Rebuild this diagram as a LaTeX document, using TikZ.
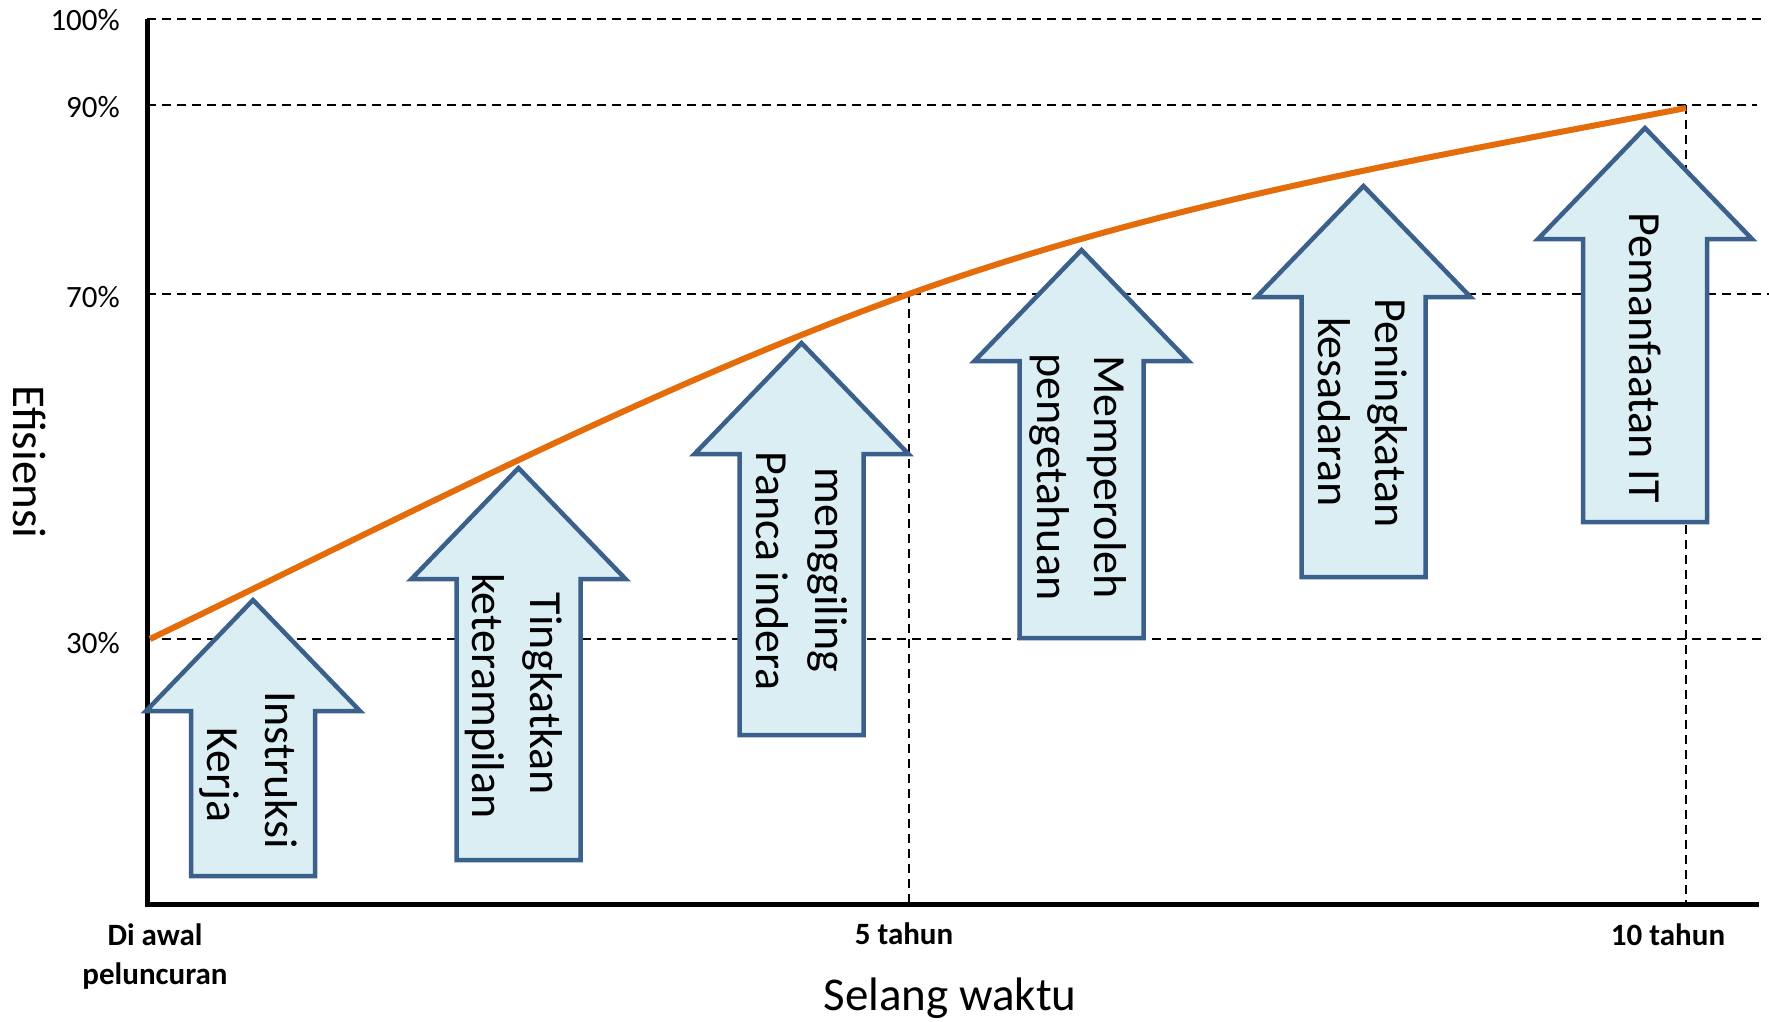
\documentclass[tikz,border=0pt]{standalone}
\usepackage{fontspec}
\setmainfont{Carlito}
\definecolor{arrowfill}{HTML}{DAEEF3}
\definecolor{arrowline}{HTML}{3C608C}
\definecolor{curveor}{HTML}{E46C0A}
\tikzset{
  upar/.style={draw=arrowline, fill=arrowfill, line width=4.5pt, line join=miter},
  gridline/.style={dash pattern=on 9pt off 6pt, line width=1.4pt},
  axisline/.style={line width=5pt, line join=miter},
  arrowtext/.style={font=\fontsize{46}{56}\selectfont, rotate=-90, anchor=base, inner sep=0pt},
  ticklab/.style={font=\fontsize{31}{38}\selectfont, anchor=east, inner sep=0pt},
  timelab/.style={font=\fontsize{31}{38}\selectfont\bfseries, anchor=base, inner sep=0pt},
  bigtitle/.style={font=\fontsize{47}{56}\selectfont, anchor=base, inner sep=0pt},
}
\newcommand{\UpArrowShape}[3]{%
  \draw[upar] (#1,#2+3) -- (#1+107,#2+114) -- (#1+62,#2+114) -- (#1+62,#3)
    -- (#1-62,#3) -- (#1-62,#2+114) -- (#1-107,#2+114) -- cycle;}
\begin{document}
\begin{tikzpicture}[x=1pt,y=-1pt]
\useasboundingbox (0,0) rectangle (1769,1021);
% grid lines
\draw[gridline] (147,19) -- (1766,19);
\draw[gridline] (147,105) -- (1757,105);
\draw[gridline] (147,294) -- (1769,294);
\draw[gridline] (147,639) -- (1766,639);
\draw[gridline] (909,294) -- (909,904);
\draw[gridline] (1686,105) -- (1686,904);
% axes
\draw[axisline] (147,19) -- (147,904) -- (1759,904);
% tick labels
\node[ticklab] (p100) at (120,20) {100\%};
\node[ticklab] (p90) at (120,107) {90\%};
\node[ticklab] (p70) at (120,297) {70\%};
\node[ticklab] (p30) at (120,643) {30\%};
\node[timelab] (t0a) at (155,945) {Di awal};
\node[timelab] (t0b) at (155,984) {peluncuran};
\node[timelab] (t5) at (904,944) {5 tahun};
\node[timelab] (t10) at (1668,945) {10 tahun};
\node[bigtitle] (xlab) at (950,1010) {Selang waktu};
\node[bigtitle, rotate=-90] (ylab) at (13,462) {Efisiensi};
% arrows
\UpArrowShape{253}{597}{876}
\UpArrowShape{518.5}{465}{860}
\UpArrowShape{801.5}{340}{735}
\UpArrowShape{1081.5}{247}{638}
\UpArrowShape{1363.5}{183}{577}
\UpArrowShape{1645}{125}{522}
% arrow texts
\node[arrowtext] (a1a) at (265,770) {Instruksi};
\node[arrowtext] (a1b) at (207,775) {Kerja};
\node[arrowtext] (a2a) at (530,694) {Tingkatkan};
\node[arrowtext] (a2b) at (472,696) {keterampilan};
\node[arrowtext] (a3a) at (815,570) {menggiling};
\node[arrowtext] (a3b) at (756,571) {Panca indera};
\node[arrowtext] (a4a) at (1094,477) {Memperoleh};
\node[arrowtext] (a4b) at (1037,477) {pengetahuan};
\node[arrowtext] (a5a) at (1375,413) {Peningkatan};
\node[arrowtext] (a5b) at (1318,412) {kesadaran};
\node[arrowtext] (a6a) at (1629,358) {Pemanfaatan IT};
% efficiency curve
\draw[curveor, line width=6pt] (150,639) .. controls (403,517) and (656,385) .. (909,294)
  .. controls (1168,201) and (1427,158) .. (1686,108);
\end{tikzpicture}
\end{document}
